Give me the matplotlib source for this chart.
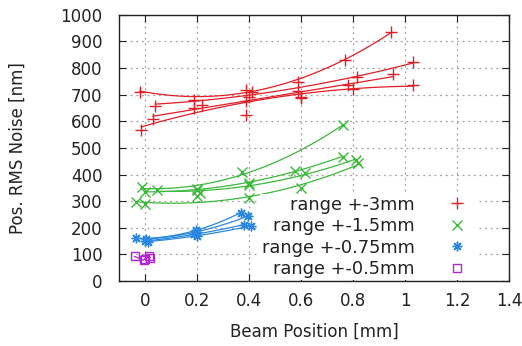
import numpy as np
import matplotlib.pyplot as plt

# beam scans, one list per scan
# range +-3mm
r3_x = [[-0.02, 0.39, 0.59, 0.77, 0.945],
        [0.04, 0.19, 0.41, 0.59, 0.817, 1.03],
        [0.03, 0.22, 0.40, 0.60, 0.78, 0.955],
        [-0.015, 0.19, 0.39, 0.60, 0.80, 1.03]]
r3_y = [[712, 718, 749, 832, 935],
        [659, 680, 712, 715, 766, 823],
        [609, 662, 693, 690, 735, 776],
        [568, 649, 677, 687, 721, 737]]
r3_extra_x = [0.39]
r3_extra_y = [624]

# range +-1.5mm
r15_x = [[-0.01, 0.2, 0.374, 0.763],
         [0.0, 0.2, 0.4, 0.577, 0.76],
         [0.047, 0.21, 0.4, 0.615, 0.81],
         [-0.036, 0.0, 0.2, 0.4, 0.6, 0.82]]
r15_y = [[352, 345, 411, 586],
         [336, 342, 370, 415, 467],
         [342, 330, 360, 405, 455],
         [295, 288, 318, 310, 348, 445]]

# range +-0.75mm
r075_x = [[-0.036, 0.195, 0.368],
          [0.003, 0.2, 0.396],
          [0.0, 0.19, 0.38],
          [0.01, 0.2, 0.407]]
r075_y = [[160, 190, 257],
          [157, 185, 244],
          [150, 175, 212],
          [148, 170, 207]]

# range +-0.5mm
r05_x = [-0.04, -0.005, 0.0, 0.015, 0.02]
r05_y = [92, 78, 84, 92, 88]

x_ticks = [0, 0.2, 0.4, 0.6, 0.8, 1, 1.2, 1.4]
x_tick_labels = ['0', '0.2', '0.4', '0.6', '0.8', '1', '1.2', '1.4']
y_ticks = list(range(0, 1001, 100))

red = '#e01e26'
green = '#3cb93c'
blue = '#2a88e0'
purple = '#b424d4'

plt.rcParams['font.family'] = 'DejaVu Sans'
plt.rcParams['font.size'] = 12

fig = plt.figure(figsize=(5.22, 3.46), dpi=100)
ax = fig.add_axes([0.228, 0.188, 0.747, 0.769])


def draw_group(xs, ys, color, marker, ms, label, mfc=None):
    for i in range(len(xs)):
        x = np.array(xs[i])
        y = np.array(ys[i])
        # smooth fit through each scan, as in the original
        p = np.polyfit(x, y, 2)
        xx = np.linspace(x.min(), x.max(), 60)
        ax.plot(xx, np.polyval(p, xx), '-', color=color, lw=0.9, zorder=3)
        ax.plot(x, y, linestyle='none', marker=marker, ms=ms, color=color,
                mew=1.0, mfc=mfc if mfc else color, zorder=4,
                label=label if i == 0 else None)


draw_group(r3_x, r3_y, red, '+', 8, 'range +-3mm')
ax.plot(r3_extra_x, r3_extra_y, linestyle='none', marker='+', ms=8, mew=1.0,
        color=red, zorder=4)
draw_group(r15_x, r15_y, green, 'x', 7, 'range +-1.5mm')
draw_group(r075_x, r075_y, blue, (8, 2, 0), 7, 'range +-0.75mm')
ax.plot(r05_x, r05_y, '-', color=purple, lw=0.9, zorder=3)
ax.plot(r05_x, r05_y, linestyle='none', marker='s', ms=6, mew=1.0,
        color=purple, mfc='none', zorder=4, label='range +-0.5mm')

ax.set_xlim(-0.1, 1.4)
ax.set_ylim(0, 1000)
ax.set_xticks(x_ticks)
ax.set_xticklabels(x_tick_labels)
ax.set_yticks(y_ticks)
ax.grid(True, color='#a0a0a0', linestyle=(0, (1.5, 3)), lw=0.9)
ax.set_axisbelow(True)
ax.tick_params(direction='in', top=True, right=True, length=5, colors='#222222',
               labelsize=12)
ax.tick_params(axis='y', pad=12)
ax.tick_params(axis='x', pad=8)
for s in ax.spines.values():
    s.set_color('#222222')
    s.set_linewidth(1.0)

ax.set_xlabel('Beam Position [mm]', fontsize=12, color='#222222', labelpad=9)
ax.set_ylabel('Pos. RMS Noise [nm]', fontsize=12, color='#222222', labelpad=24)

leg = ax.legend(loc='lower right', bbox_to_anchor=(0.940, -0.03), markerfirst=False,
                frameon=True, fancybox=False, edgecolor='none', framealpha=1.0,
                handlelength=2.0, handletextpad=1.4, labelspacing=0.2,
                borderpad=0.1, fontsize=12.8)
for t in leg.get_texts():
    t.set_color('#222222')

fig.savefig('out.png', dpi=100)
